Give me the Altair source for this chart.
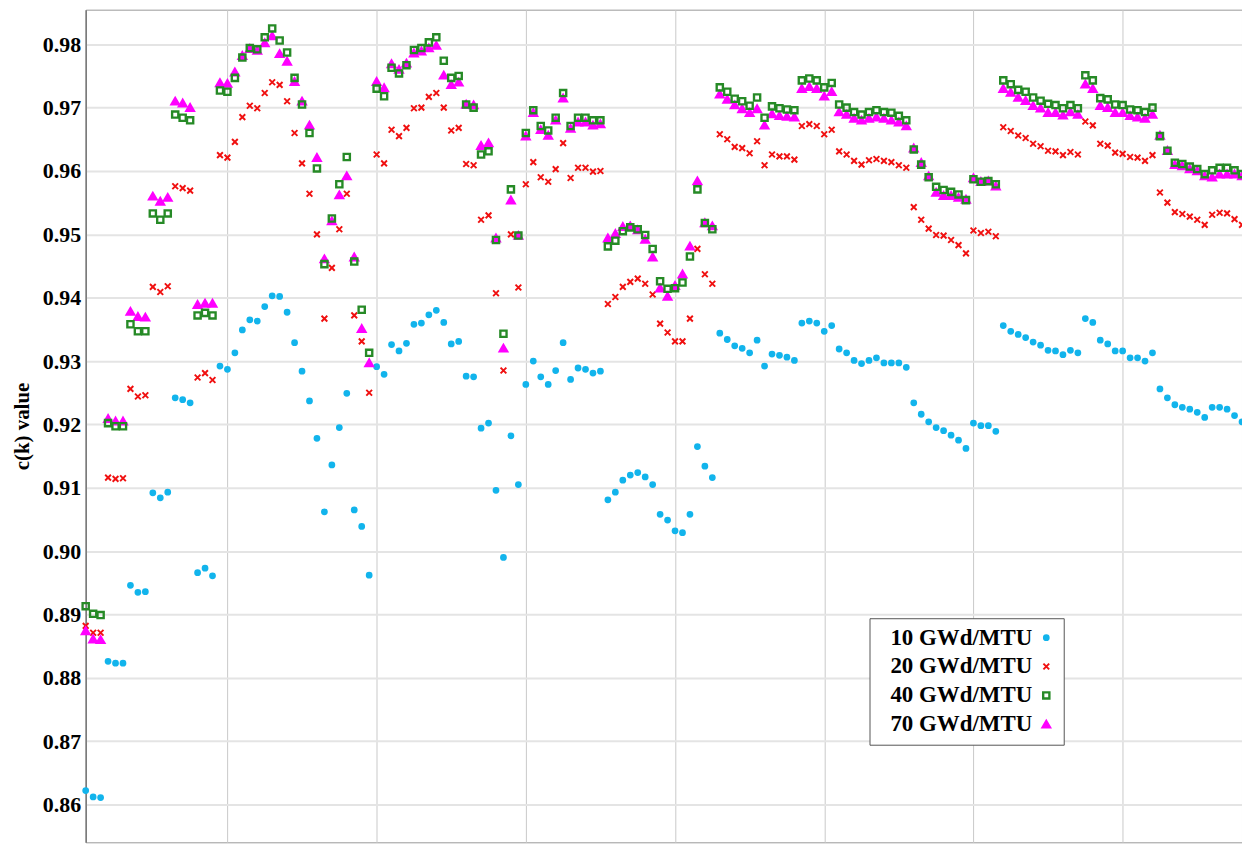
import altair as alt
import pandas as pd

series_names = ["10 GWd/MTU", "20 GWd/MTU", "40 GWd/MTU", "70 GWd/MTU"]

b10 = [0.8622, 0.8612, 0.8611, 0.8826, 0.8823, 0.8823, 0.8946, 0.8935, 0.8936, 0.9092,
       0.9084, 0.9093, 0.9242, 0.9239, 0.9234, 0.8966, 0.8973, 0.8961, 0.9292, 0.9287,
       0.9313, 0.9349, 0.9365, 0.9363, 0.9386, 0.9403, 0.9402, 0.9377, 0.9329, 0.9284,
       0.9237, 0.9178, 0.9062, 0.9136, 0.9195, 0.9249, 0.9065, 0.9039, 0.8962, 0.9291,
       0.9279, 0.9326, 0.9316, 0.9328, 0.9358, 0.9360, 0.9373, 0.9380, 0.9361, 0.9327,
       0.9331, 0.9276, 0.9275, 0.9194, 0.9202, 0.9096, 0.8990, 0.9182, 0.9105, 0.9263,
       0.9300, 0.9275, 0.9263, 0.9285, 0.9329, 0.9271, 0.9289, 0.9287, 0.9281, 0.9284,
       0.9081, 0.9093, 0.9112, 0.9120, 0.9124, 0.9117, 0.9105, 0.9058, 0.9049, 0.9032,
       0.9029, 0.9058, 0.9165, 0.9134, 0.9116, 0.9344, 0.9334, 0.9324, 0.9320, 0.9313,
       0.9333, 0.9292, 0.9311, 0.9309, 0.9306, 0.9301, 0.9360, 0.9363, 0.9360, 0.9347,
       0.9356, 0.9319, 0.9313, 0.9301, 0.9296, 0.9301, 0.9305, 0.9297, 0.9297, 0.9297,
       0.9290, 0.9234, 0.9216, 0.9204, 0.9195, 0.9190, 0.9183, 0.9175, 0.9162, 0.9202,
       0.9198, 0.9198, 0.9189, 0.9356, 0.9347, 0.9342, 0.9337, 0.9330, 0.9325, 0.9317,
       0.9316, 0.9310, 0.9317, 0.9313, 0.9367, 0.9361, 0.9333, 0.9327, 0.9316, 0.9316,
       0.9305, 0.9305, 0.9300, 0.9313, 0.9256, 0.9242, 0.9231, 0.9227, 0.9224, 0.9219,
       0.9211, 0.9227, 0.9227, 0.9224, 0.9214, 0.9204]

b20 = [0.8882, 0.8871, 0.8871, 0.9116, 0.9114, 0.9115, 0.9256, 0.9244, 0.9246, 0.9417,
       0.9409, 0.9418, 0.9576, 0.9573, 0.9569, 0.9274, 0.9281, 0.9270, 0.9625, 0.9621,
       0.9646, 0.9685, 0.9703, 0.9699, 0.9723, 0.9740, 0.9736, 0.9710, 0.9660, 0.9612,
       0.9564, 0.9500, 0.9367, 0.9447, 0.9508, 0.9564, 0.9372, 0.9331, 0.9250, 0.9626,
       0.9612, 0.9665, 0.9655, 0.9668, 0.9699, 0.9700, 0.9717, 0.9723, 0.9700, 0.9664,
       0.9668, 0.9611, 0.9609, 0.9523, 0.9530, 0.9407, 0.9285, 0.9500, 0.9416, 0.9579,
       0.9614, 0.9590, 0.9583, 0.9603, 0.9644, 0.9589, 0.9605, 0.9605, 0.9599, 0.9600,
       0.9390, 0.9401, 0.9417, 0.9425, 0.9430, 0.9422, 0.9405, 0.9359, 0.9345, 0.9331,
       0.9331, 0.9367, 0.9477, 0.9437, 0.9422, 0.9658, 0.9650, 0.9638, 0.9636, 0.9628,
       0.9647, 0.9609, 0.9626, 0.9623, 0.9623, 0.9618, 0.9671, 0.9674, 0.9671, 0.9658,
       0.9665, 0.9631, 0.9626, 0.9616, 0.9610, 0.9617, 0.9619, 0.9616, 0.9614, 0.9609,
       0.9605, 0.9543, 0.9523, 0.9509, 0.9499, 0.9498, 0.9491, 0.9483, 0.9470, 0.9506,
       0.9502, 0.9504, 0.9497, 0.9669, 0.9663, 0.9656, 0.9652, 0.9643, 0.9639, 0.9632,
       0.9631, 0.9625, 0.9630, 0.9626, 0.9678, 0.9672, 0.9643, 0.9640, 0.9629, 0.9627,
       0.9622, 0.9621, 0.9616, 0.9625, 0.9566, 0.9550, 0.9535, 0.9532, 0.9528, 0.9523,
       0.9515, 0.9531, 0.9534, 0.9533, 0.9524, 0.9515]

b40 = [0.8913, 0.8901, 0.8899, 0.9202, 0.9197, 0.9197, 0.9358, 0.9347, 0.9347, 0.9533,
       0.9523, 0.9533, 0.9689, 0.9684, 0.9680, 0.9372, 0.9376, 0.9372, 0.9727, 0.9725,
       0.9747, 0.9779, 0.9794, 0.9792, 0.9811, 0.9825, 0.9806, 0.9787, 0.9747, 0.9705,
       0.9660, 0.9604, 0.9453, 0.9525, 0.9579, 0.9622, 0.9457, 0.9381, 0.9313, 0.9730,
       0.9718, 0.9763, 0.9754, 0.9767, 0.9791, 0.9794, 0.9803, 0.9811, 0.9774, 0.9747,
       0.9750, 0.9705, 0.9700, 0.9626, 0.9631, 0.9491, 0.9343, 0.9571, 0.9498, 0.9660,
       0.9696, 0.9671, 0.9664, 0.9684, 0.9723, 0.9671, 0.9684, 0.9684, 0.9680, 0.9680,
       0.9481, 0.9490, 0.9505, 0.9511, 0.9508, 0.9499, 0.9477, 0.9426, 0.9414, 0.9415,
       0.9424, 0.9465, 0.9571, 0.9518, 0.9508, 0.9732, 0.9725, 0.9714, 0.9710, 0.9703,
       0.9716, 0.9684, 0.9702, 0.9699, 0.9697, 0.9696, 0.9743, 0.9746, 0.9743, 0.9732,
       0.9739, 0.9705, 0.9700, 0.9693, 0.9689, 0.9693, 0.9696, 0.9693, 0.9692, 0.9687,
       0.9680, 0.9634, 0.9610, 0.9590, 0.9575, 0.9570, 0.9567, 0.9563, 0.9554, 0.9587,
       0.9583, 0.9584, 0.9579, 0.9743, 0.9737, 0.9728, 0.9725, 0.9716, 0.9711, 0.9706,
       0.9704, 0.9699, 0.9704, 0.9699, 0.9751, 0.9743, 0.9715, 0.9713, 0.9705, 0.9704,
       0.9697, 0.9696, 0.9693, 0.9700, 0.9655, 0.9632, 0.9613, 0.9611, 0.9607, 0.9603,
       0.9595, 0.9601, 0.9605, 0.9605, 0.9601, 0.9595]

b70 = [0.8874, 0.8861, 0.8860, 0.9209, 0.9205, 0.9205, 0.9378, 0.9370, 0.9369, 0.9560,
       0.9552, 0.9558, 0.9710, 0.9707, 0.9700, 0.9389, 0.9391, 0.9391, 0.9739, 0.9738,
       0.9756, 0.9782, 0.9793, 0.9790, 0.9802, 0.9813, 0.9785, 0.9773, 0.9741, 0.9710,
       0.9672, 0.9621, 0.9461, 0.9521, 0.9562, 0.9592, 0.9464, 0.9351, 0.9297, 0.9741,
       0.9731, 0.9769, 0.9760, 0.9770, 0.9786, 0.9789, 0.9794, 0.9798, 0.9751, 0.9736,
       0.9740, 0.9705, 0.9704, 0.9640, 0.9644, 0.9494, 0.9320, 0.9554, 0.9498, 0.9655,
       0.9692, 0.9665, 0.9656, 0.9680, 0.9715, 0.9667, 0.9677, 0.9677, 0.9672, 0.9674,
       0.9494, 0.9501, 0.9512, 0.9513, 0.9507, 0.9492, 0.9464, 0.9415, 0.9402, 0.9419,
       0.9437, 0.9481, 0.9584, 0.9518, 0.9513, 0.9721, 0.9713, 0.9704, 0.9698, 0.9692,
       0.9698, 0.9672, 0.9690, 0.9687, 0.9686, 0.9685, 0.9730, 0.9733, 0.9730, 0.9718,
       0.9725, 0.9693, 0.9689, 0.9683, 0.9680, 0.9683, 0.9685, 0.9683, 0.9680, 0.9677,
       0.9671, 0.9636, 0.9613, 0.9592, 0.9566, 0.9561, 0.9561, 0.9558, 0.9555, 0.9589,
       0.9583, 0.9584, 0.9576, 0.9730, 0.9724, 0.9716, 0.9711, 0.9703, 0.9699, 0.9692,
       0.9692, 0.9688, 0.9693, 0.9689, 0.9737, 0.9730, 0.9703, 0.9700, 0.9692, 0.9692,
       0.9687, 0.9685, 0.9683, 0.9689, 0.9656, 0.9632, 0.9610, 0.9608, 0.9603, 0.9600,
       0.9592, 0.9590, 0.9595, 0.9595, 0.9595, 0.9592]

x_ticks = [20, 40, 60, 80, 100, 120, 140]
y_ticks = [0.86, 0.87, 0.88, 0.89, 0.90, 0.91, 0.92, 0.93, 0.94, 0.95, 0.96, 0.97, 0.98]

# drawing order: 10, 20, 70, 40 (squares on top of triangles)
rows = []
for name, vals in [(series_names[0], b10), (series_names[1], b20),
                   (series_names[3], b70), (series_names[2], b40)]:
    for i, v in enumerate(vals):
        rows.append({"k": i + 1, "value": v, "burnup": name})
df = pd.DataFrame(rows)

FONT = "Liberation Serif"
SYM_OFF = 158

chart = alt.Chart(df).mark_point(opacity=1).encode(
    x=alt.X("k:Q",
            scale=alt.Scale(domain=[1, 156], nice=False, zero=False),
            axis=alt.Axis(values=x_ticks, labels=False, ticks=False, domain=False,
                          title=None, gridColor="#c9c9c9", gridWidth=1)),
    y=alt.Y("value:Q",
            scale=alt.Scale(domain=[0.85403, 0.98546], nice=False, zero=False),
            axis=alt.Axis(values=y_ticks, format=".2f", title="c(k) value",
                          labelFont=FONT, labelFontWeight="bold", labelFontSize=22,
                          labelColor="black", labelPadding=5, ticks=False,
                          domainColor="#777777", domainWidth=1.5,
                          gridColor="#e4e4e4", gridWidth=2,
                          titleFont=FONT, titleFontWeight="bold", titleFontSize=21,
                          titleColor="black", titleX=-57, titleBaseline="alphabetic")),
    shape=alt.Shape("burnup:N", title=None,
                    scale=alt.Scale(domain=series_names,
                                    range=["circle", "M-1,-1L1,1M-1,1L1,-1",
                                           "square", "triangle-up"])),
    fill=alt.Fill("burnup:N", title=None,
                  scale=alt.Scale(domain=series_names,
                                  range=["#12B4EC", "transparent", "transparent", "#FF00FF"])),
    stroke=alt.Stroke("burnup:N", title=None,
                      scale=alt.Scale(domain=series_names,
                                      range=["#12B4EC", "#F01010", "#268A26", "#FF00FF"])),
    size=alt.Size("burnup:N", title=None,
                  scale=alt.Scale(domain=series_names, range=[28, 44, 36, 62])),
    strokeWidth=alt.StrokeWidth("burnup:N", title=None,
                                scale=alt.Scale(domain=series_names,
                                                range=[1.5, 2.8, 3.0, 1.5])),
).properties(
    width=1161, height=836,
    autosize=alt.AutoSizeParams(type="none"),
    padding={"left": 78, "top": 0, "right": 0, "bottom": 0},
).configure_view(
    stroke="#999999", strokeWidth=1
).configure_legend(
    orient="none", legendX=787, legendY=611,
    labelFont=FONT, labelFontWeight="bold", labelFontSize=23, labelColor="black",
    labelOffset={"expr": str(-(SYM_OFF + 10))}, symbolOffset=SYM_OFF, rowPadding=5,
    strokeColor="#555555", fillColor="white", padding=8,
)

chart.save("out.html", embed_options={"renderer": "svg", "actions": False})
